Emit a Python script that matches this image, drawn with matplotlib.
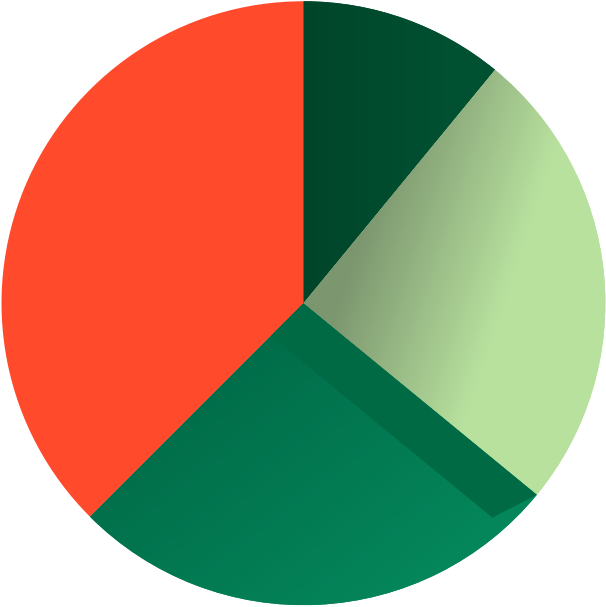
import numpy as np
import matplotlib.pyplot as plt
from matplotlib.colors import LinearSegmentedColormap
from matplotlib.patches import Polygon

# slice sizes, clockwise from 12 o'clock
names = ["dark green", "light green", "medium green", "red"]
values = [3.5, 8, 8.5, 12]
colors = ["#004f31", "#b8e19e", "#04845a", "#ff4a2c"]

fig = plt.figure(figsize=(6.06, 6.07), dpi=100)
ax = fig.add_axes([0, 0, 1, 1])
wedges, _ = ax.pie(values, colors=colors, startangle=90, counterclock=False,
                   radius=1, wedgeprops=dict(linewidth=0))
ax.set_xlim(-1.005, 1.002)
ax.set_ylim(-1.006, 1.004)
ax.set_aspect("equal")
ax.axis("off")

xs = np.linspace(-1, 1, 400)
X, Y = np.meshgrid(xs, xs[::-1])

# shading inside the slices
shade = {
    0: (["#00452a", "#005132"], np.clip((X + 0.0) / 0.5, 0, 1)),
    1: (["#7c966f", "#b8e19e"], np.clip((0.9 * X - 0.3 * Y - 0.1) / 0.5, 0, 1)),
    2: (["#006a47", "#05895d"], np.clip((0.6 * X - 0.8 * Y + 0.1) / 1.2, 0, 1)),
}
for i, (cols, t) in shade.items():
    cmap = LinearSegmentedColormap.from_list("s%d" % i, cols)
    im = ax.imshow(t, cmap=cmap, extent=(-1, 1, -1, 1), vmin=0, vmax=1,
                   interpolation="bilinear", zorder=2)
    im.set_clip_path(wedges[i])

# shadow cast by the light green slice onto the medium green one
th = np.radians(wedges[1].theta1)
u = np.array([np.cos(th), np.sin(th)])
n = np.array([np.sin(th), -np.cos(th)])
off = 0.152 * n - 0.066 * u
shadow = Polygon([(0, 0), u, u + off, off], closed=True,
                 facecolor="#006a45", linewidth=0, zorder=3)
ax.add_patch(shadow)
shadow.set_clip_path(wedges[2])

fig.savefig("out.png", dpi=100)
plt.close()
